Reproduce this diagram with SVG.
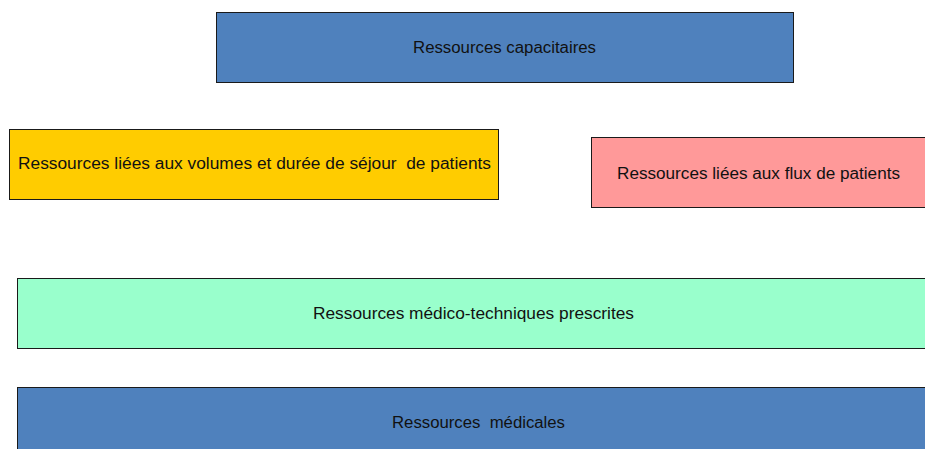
<svg xmlns="http://www.w3.org/2000/svg" width="925" height="449" viewBox="0 0 925 449">
<style>
.box{stroke:#1a1a1a;stroke-width:1}
.lbl{font-family:"Liberation Sans",Arial,sans-serif;font-size:16px;fill:#111;text-anchor:middle}
</style>
<rect width="925" height="449" fill="#ffffff"/>
<g id="capacitaires">
<rect class="box" x="216.5" y="12.5" width="577" height="70" fill="#4F81BD"/>
<text class="lbl" x="504.5" y="53" textLength="183" lengthAdjust="spacingAndGlyphs">Ressources capacitaires</text>
</g>
<g id="volumes">
<rect class="box" x="9.5" y="129.5" width="489" height="70" fill="#FFCC00"/>
<text class="lbl" x="254.5" y="169" textLength="473" lengthAdjust="spacingAndGlyphs" xml:space="preserve">Ressources liées aux volumes et durée de séjour  de patients</text>
</g>
<g id="flux">
<rect class="box" x="591.5" y="137.5" width="340" height="70" fill="#FF9999"/>
<text class="lbl" x="758.5" y="179" textLength="283" lengthAdjust="spacingAndGlyphs">Ressources liées aux flux de patients</text>
</g>
<g id="medico-techniques">
<rect class="box" x="17.5" y="278.5" width="920" height="70" fill="#99FFCC"/>
<text class="lbl" x="473.5" y="319" textLength="321" lengthAdjust="spacingAndGlyphs">Ressources médico-techniques prescrites</text>
</g>
<g id="medicales">
<rect class="box" x="17.5" y="387.5" width="920" height="70" fill="#4F81BD"/>
<text class="lbl" x="478.5" y="428" textLength="173" lengthAdjust="spacingAndGlyphs" xml:space="preserve">Ressources  médicales</text>
</g>
<g id="connectors"></g>
</svg>
